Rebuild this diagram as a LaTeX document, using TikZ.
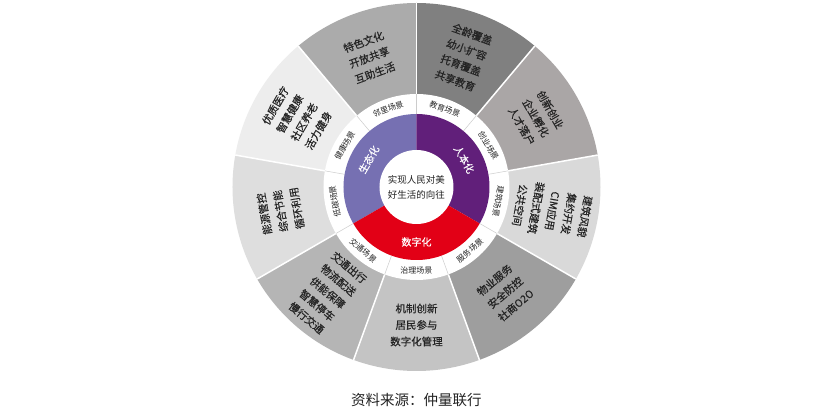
\documentclass[tikz,border=0pt]{standalone}
\usepackage{fontspec}
\setmainfont{Noto Sans CJK SC}
\newfontfamily\heavy{Noto Sans CJK SC}[FakeBold=0.3]
\usetikzlibrary{positioning}
\definecolor{shengtai}{RGB}{118,112,178}
\definecolor{renben}{RGB}{97,31,122}
\definecolor{shuzi}{RGB}{226,0,22}
\definecolor{chuangye}{RGB}{170,166,166}
\definecolor{textgray}{RGB}{35,35,35}

\begin{document}
\begin{tikzpicture}[x=1pt, y=1pt,
    scene/.style={font=\heavy\fontsize{10.5}{16.5}\selectfont, text=textgray, align=center},
    tag/.style={font=\fontsize{8}{9}\selectfont, text=textgray},
    core/.style={font=\heavy\fontsize{10}{12}\selectfont, text=white},
    goal/.style={font=\fontsize{9.5}{15}\selectfont, text=textgray, align=center}]
\useasboundingbox[fill=white] (-416.5,-230) rectangle (416.5,187);
% outer ring, one slice per scene
\foreach \s/\e/\c in {90/130/black!33, 50/90/black!50, 10/50/chuangye, -30/10/black!15,
    -70/-30/black!38, -110/-70/black!23, -150/-110/black!29, 170/210/black!13, 130/170/black!7}
    \fill[\c] (0,0) -- (\s:184) arc[start angle=\s, end angle=\e, radius=184] -- cycle;
\foreach \b in {90,50,...,-230}
    \draw[white, line width=1.5pt] (\b:93) -- (\b:184);
% scene ring
\fill[white] (0,0) circle[radius=93];
\foreach \b in {90,50,...,-230}
    \draw[black!20, line width=0.5pt] (\b:73) -- (\b:93);
% three cores
\fill[shengtai] (0,0) -- (90:73) arc[start angle=90, end angle=210, radius=73] -- cycle;
\fill[renben] (0,0) -- (-30:73) arc[start angle=-30, end angle=90, radius=73] -- cycle;
\fill[shuzi] (0,0) -- (210:73) arc[start angle=210, end angle=330, radius=73] -- cycle;
\fill[white] (0,0) circle[radius=37];

\node[goal] (goal) at (0,0) {实现人民对美\\好生活的向往};
\node[core, rotate=60] (shengtai) at (150:55) {生态化};
\node[core, rotate=-60] (renben) at (30:55) {人本化};
\node[core] (shuzi) at (-90:55) {数字化};

\node[tag, rotate=20] (linli) at (110:83) {邻里场景};
\node[tag, rotate=-20] (jiaoyu) at (70:83) {教育场景};
\node[tag, rotate=-60] (chuangye) at (30:83) {创业场景};
\node[tag, rotate=-100] (jianzhu) at (-10:83) {建筑场景};
\node[tag, rotate=40] (fuwu) at (-50:83) {服务场景};
\node[tag] (zhili) at (-90:83) {治理场景};
\node[tag, rotate=-40] (jiaotong) at (-130:83) {交通场景};
\node[tag, rotate=100] (ditan) at (190:83) {低碳场景};
\node[tag, rotate=60] (jiankang) at (150:83) {健康场景};

\node[scene, rotate=20] (linli-txt) at (110:138) {特色文化\\开放共享\\互助生活};
\node[scene, rotate=-20] (jiaoyu-txt) at (70:138) {全龄覆盖\\幼小扩容\\托育覆盖\\共享教育};
\node[scene, rotate=-60] (chuangye-txt) at (30:138) {创新创业\\企业孵化\\人才落户};
\node[scene, rotate=-100] (jianzhu-txt) at (-10:138) {建筑风貌\\集约开发\\CIM应用\\装配式建筑\\公共空间};
\node[scene, rotate=40] (fuwu-txt) at (-50:138) {物业服务\\安全防控\\社商O2O};
\node[scene] (zhili-txt) at (-90:138) {机制创新\\居民参与\\数字化管理};
\node[scene, rotate=-40] (jiaotong-txt) at (-130:138) {交通出行\\物流配送\\供能保障\\智慧停车\\慢行交通};
\node[scene, rotate=100] (ditan-txt) at (190:138) {能源管控\\综合节能\\循环利用};
\node[scene, rotate=60] (jiankang-txt) at (150:138) {优质医疗\\智慧健康\\社区养老\\活力健身};

\node[font=\fontsize{14.5}{16}\selectfont, text=textgray] (source) at (0,-213) {资料来源：仲量联行};
\end{tikzpicture}
\end{document}
